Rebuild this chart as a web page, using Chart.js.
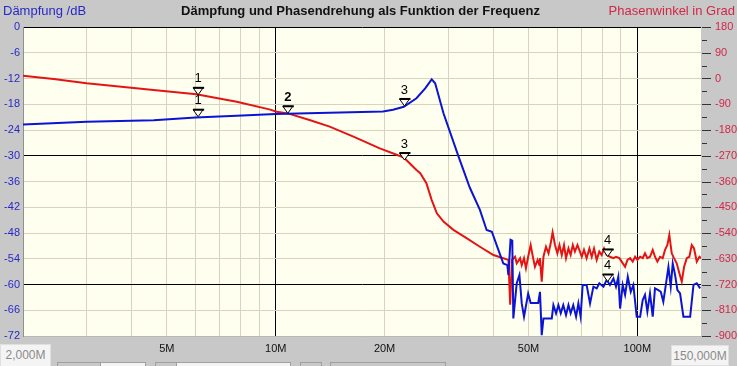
<!DOCTYPE html>
<html>
<head>
<meta charset="utf-8">
<script src="https://cdn.jsdelivr.net/npm/chart.js@4.4.1/dist/chart.umd.min.js"></script>
<style>
  html, body { margin: 0; padding: 0; background: #c8c8c8; }
  #wrap { position: relative; width: 737px; height: 366px; overflow: hidden; background: #c8c8c8;
          font-family: "Liberation Sans", Arial, sans-serif; }
  #chart { position: absolute; left: 0; top: 0; }
  .hdr { position: absolute; top: 3px; font-size: 13px; line-height: 15px; white-space: nowrap; }
  .box { position: absolute; background: #f4f4f4; border: 1px solid #e0e0e0; color: #8a8a8a;
         font-size: 12px; line-height: 20px; text-align: center; }
  .btn { position: absolute; top: 362px; height: 10px; background: #c8c8c8; border: 1px solid #a0a0a0; }
</style>
</head>
<body>
<div id="wrap">
  <canvas id="chart" width="737" height="366"></canvas>
  <div class="hdr" style="left:3px; color:#2828c8;">Dämpfung /dB</div>
  <div class="hdr" style="left:0; width:721px; text-align:center; font-weight:bold; color:#111;">Dämpfung und Phasendrehung als Funktion der Frequenz</div>
  <div class="hdr" style="right:2px; color:#d02848;">Phasenwinkel in Grad</div>
  <div class="box" style="left:0; top:344px; width:49px; height:24px;">2,000M</div>
  <div class="box" style="left:671px; top:345px; width:56px; height:19px;">150,000M</div>
  <div class="btn" style="left:57px; width:42px;"></div>
  <div class="btn" style="left:100px; width:44px; background:#f4f4f4;"></div>
  <div class="btn" style="left:155px; width:20px;"></div>
  <div class="btn" style="left:176px; width:113px; background:#f4f4f4;"></div>
  <div class="btn" style="left:300px; width:20px;"></div>
  <div class="btn" style="left:330px; width:114px;"></div>
</div>
<script>
// frequencies in MHz
const blueFreq = [2.0, 3.0, 4.6, 6.0, 7.8, 10.0, 14.1, 19.8, 21.1, 22.6, 24.5, 25.9, 27.0, 27.6, 29.1, 32.0, 34.4,
  36.7, 38.3, 39.6, 41.3, 42.6, 43.7, 44.0, 44.6, 45.1, 45.4, 46.4, 47.2, 47.9, 48.6, 49.9, 50.7, 53.2,
  53.8, 54.4, 55.0, 58.0, 58.6, 59.6, 60.5, 61.4, 62.4, 63.5, 64.5, 65.4, 66.5, 67.7, 68.7, 69.7, 70.6,
  72.4, 74.0, 75.6, 77.2, 78.5, 80.6, 82.3, 84.0, 85.9, 87.3, 88.6, 89.6, 91.1, 92.5, 94.1, 95.9, 97.5,
  99.6, 101.8, 103.5, 105.0, 106.6, 108.4, 110.3, 111.9, 114.3, 116.1, 118.0, 120.1, 121.9, 123.7, 125.3,
  127.2, 129.1, 131.3, 134.1, 140.0, 143.0, 146.0, 149.2];
const blueDb = [-22.7, -22.1, -21.7, -21.1, -20.7, -20.3, -20.0, -19.7, -19.3, -18.6, -16.6, -14.3, -12.2, -13.1, -20.1, -30.1, -37.4,
  -42.6, -47.3, -47.7, -52.0, -55.1, -55.5, -57.8, -49.6, -49.8, -67.9, -59.7, -57.8, -64.4, -67.5, -62.1, -64.3, -64.3,
  -61.7, -71.8, -67.9, -67.9, -64.8, -66.7, -64.8, -66.7, -64.8, -67.1, -64.8, -66.7, -64.8, -67.5, -64.4, -67.5, -60.1,
  -60.1, -64.4, -60.5, -60.9, -59.7, -60.5, -58.9, -60.1, -58.6, -60.5, -58.2, -65.6, -60.1, -62.4, -58.2, -61.7, -60.1,
  -67.5, -67.5, -63.6, -62.4, -66.3, -62.1, -67.5, -60.9, -61.3, -61.7, -64.0, -59.7, -55.9, -60.5, -55.1,
  -57.8, -61.3, -62.1, -67.5, -67.5, -60.1, -59.7, -60.9];

const redFreq = [2.0, 2.43, 3.0, 4.59, 6.03, 7.8, 9.6, 10.06, 10.8, 12.4, 14.1, 16.4, 19.4, 22.6, 24.5, 25.1, 26.1, 27.0,
  27.9, 29.1, 31.0, 33.7, 36.7, 40.0, 42.6, 44.0, 44.5, 45.0, 45.9, 46.4, 47.4, 47.9, 48.6, 49.2, 49.9, 50.7,
  51.5, 52.1, 53.0, 53.6, 53.8, 54.4, 55.0, 55.9, 56.8, 57.6, 58.3, 59.2, 60.1, 60.9, 61.8, 62.7, 63.5, 64.5,
  65.4, 66.3, 67.2, 68.3, 69.1, 70.2, 71.2, 72.4, 73.7, 74.8, 75.9, 77.2, 78.5, 79.7, 80.9, 82.3, 84.0, 85.9,
  87.3, 89.2, 90.5, 92.5, 93.9, 95.5, 97.1, 98.6, 100.0, 101.8, 103.5, 105.0, 106.6, 108.4, 110.3, 111.9,
  113.6, 115.6, 117.5, 119.3, 121.1, 122.6, 124.5, 126.3, 128.5, 130.7, 132.7, 134.7, 137.0, 139.3, 141.4,
  143.5, 146.0, 148.5, 150.0];
const redPhase = [10, -2, -17, -40, -55, -81, -108, -116, -122, -145, -168, -203, -244, -276, -320, -331, -366, -425,
  -471, -500, -529, -558, -588, -617, -628, -634, -791, -634, -623, -646, -628, -652, -628, -663, -623, -582,
  -628, -658, -634, -652, -628, -710, -623, -588, -611, -576, -538, -582, -611, -582, -617, -582, -628, -594,
  -617, -582, -605, -582, -599, -623, -599, -628, -594, -623, -594, -634, -605, -617, -594, -617, -623, -628,
  -623, -628, -640, -658, -634, -628, -640, -623, -634, -623, -628, -611, -628, -623, -599, -623,
  -640, -623, -628, -599, -582, -547, -611, -628, -646, -681, -710, -658, -628, -623, -582,
  -594, -640, -623, -628];

// markers
const markerNames = ['1', '2', '3', '4'];
const markerFreq = [6.1, 10.8, 22.7, 82.8];
const markerDb = [-20.9, -20.1, -18.4, -59.3];
const markerPhase = [-57, null, -285, -622];

// axes
const freqGrid = [3, 4, 5, 6, 7, 8, 9, 10, 20, 30, 40, 50, 60, 70, 80, 90, 100];
const freqLabels = { 5: '5M', 10: '10M', 20: '20M', 50: '50M', 100: '100M' };
const dbBold = [-30, -60, 0];
const freqBold = [10, 100];

const plotBg = '#fffff0';
const gridColor = '#d8d3bc';

const bgPlugin = {
  id: 'plotBg',
  beforeDraw(chart) {
    const { ctx, chartArea: a } = chart;
    ctx.save();
    ctx.fillStyle = plotBg;
    ctx.fillRect(a.left, a.top, a.right - a.left, a.bottom - a.top);
    ctx.restore();
  }
};

const extrasPlugin = {
  id: 'extras',
  afterDraw(chart) {
    const { ctx, chartArea: a } = chart;
    const xs = chart.scales.x, ys = chart.scales.y, y2 = chart.scales.y2;
    ctx.save();
    // right axis tick marks
    ctx.strokeStyle = '#333';
    ctx.lineWidth = 1;
    for (let v = 180; v >= -900; v -= 45) {
      const py = Math.round(y2.getPixelForValue(v)) + 0.5;
      const len = v % 90 === 0 ? 9 : 5;
      ctx.beginPath();
      ctx.moveTo(a.right + 1, py);
      ctx.lineTo(a.right + 1 + len, py);
      ctx.stroke();
    }
    // markers
    ctx.textAlign = 'center';
    ctx.textBaseline = 'middle';
    function tri(px, py, name) {
      ctx.beginPath();
      ctx.moveTo(px - 5, py - 7);
      ctx.lineTo(px + 5, py - 7);
      ctx.lineTo(px, py);
      ctx.closePath();
      ctx.fillStyle = plotBg;
      ctx.fill();
      ctx.strokeStyle = '#000';
      ctx.lineWidth = 1;
      ctx.stroke();
      ctx.fillStyle = '#000';
      ctx.fillRect(px - 5, py - 8, 11, 2);
      ctx.font = (name === '2' ? 'bold ' : '') + '13px "Liberation Sans", Arial, sans-serif';
      ctx.fillText(name, px, py - 16);
    }
    markerNames.forEach((name, i) => {
      const px = xs.getPixelForValue(markerFreq[i]);
      if (markerPhase[i] !== null) tri(px, y2.getPixelForValue(markerPhase[i]), name);
      if (markerDb[i] !== null) tri(px, ys.getPixelForValue(markerDb[i]), name);
    });
    ctx.restore();
  }
};

const font11 = { family: '"Liberation Sans", Arial, sans-serif', size: 11 };

new Chart(document.getElementById('chart'), {
  type: 'line',
  data: {
    datasets: [
      {
        label: 'Dämpfung',
        data: blueFreq.map((f, i) => ({ x: f, y: blueDb[i] })),
        borderColor: '#0c14d4',
        borderWidth: 2,
        pointRadius: 0,
        tension: 0,
        yAxisID: 'y'
      },
      {
        label: 'Phase',
        data: redFreq.map((f, i) => ({ x: f, y: redPhase[i] })),
        borderColor: '#e41414',
        borderWidth: 2,
        pointRadius: 0,
        tension: 0,
        yAxisID: 'y2'
      }
    ]
  },
  options: {
    responsive: false,
    animation: false,
    layout: { padding: { top: 27, left: 0, right: 0, bottom: 0 } },
    plugins: { legend: { display: false }, tooltip: { enabled: false } },
    scales: {
      x: {
        type: 'logarithmic',
        min: 2,
        max: 150,
        afterBuildTicks(s) { s.ticks = freqGrid.map(v => ({ value: v })); },
        afterFit(s) { s.height = 30; },
        ticks: {
          autoSkip: false,
          maxRotation: 0,
          padding: 6,
          color: '#111',
          font: font11,
          callback: v => freqLabels[v] || ''
        },
        grid: {
          drawTicks: false,
          color: c => (c.tick && freqBold.includes(c.tick.value)) ? '#000' : gridColor
        },
        border: { display: true, color: '#b8b8b8' }
      },
      y: {
        position: 'left',
        min: -72,
        max: 0,
        afterFit(s) { s.width = 23; },
        ticks: { stepSize: 6, padding: 3, color: '#2828c8', font: font11 },
        grid: {
          drawTicks: false,
          color: c => (c.tick && dbBold.includes(c.tick.value)) ? '#000' : gridColor
        },
        border: { display: true, color: '#909090' }
      },
      y2: {
        position: 'right',
        min: -900,
        max: 180,
        afterFit(s) { s.width = 36; },
        ticks: { stepSize: 90, padding: 14, color: '#d02848', font: font11 },
        grid: { display: false, drawTicks: false },
        border: { display: false }
      }
    }
  },
  plugins: [bgPlugin, extrasPlugin]
});
</script>
</body>
</html>
